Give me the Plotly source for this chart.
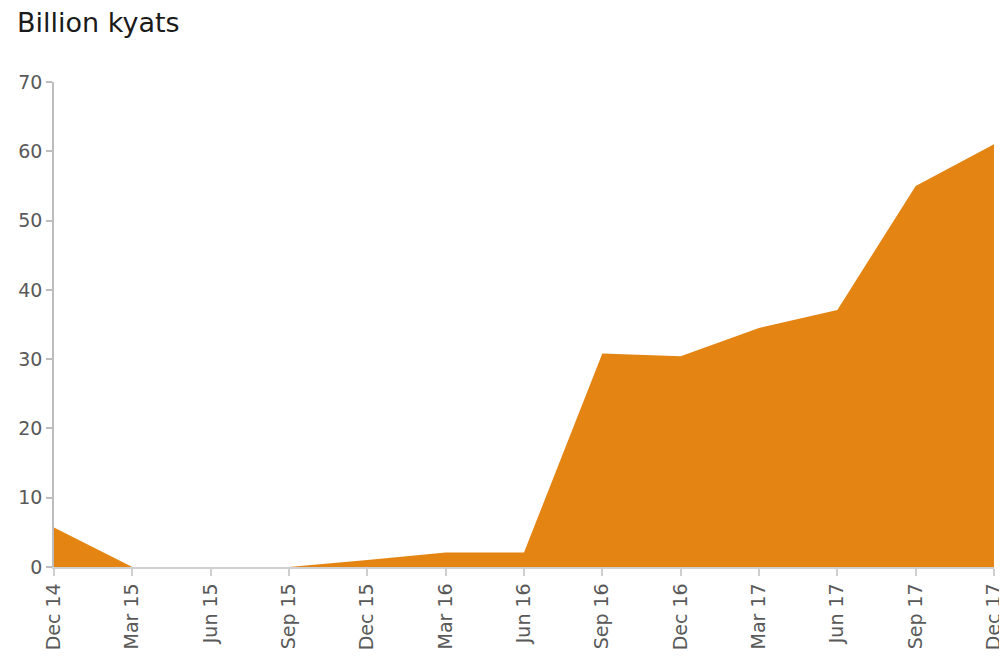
import plotly.graph_objects as go

quarters = ["Dec 14", "Mar 15", "Jun 15", "Sep 15", "Dec 15", "Mar 16", "Jun 16",
            "Sep 16", "Dec 16", "Mar 17", "Jun 17", "Sep 17", "Dec 17"]
values = [5.7, 0, 0, 0, 1.0, 2.1, 2.1, 30.8, 30.4, 34.5, 37.1, 55.0, 61.0]
y_ticks = [0, 10, 20, 30, 40, 50, 60, 70]

FONT = "DejaVu Sans"
fig = go.Figure()
fig.add_trace(go.Scatter(
    x=quarters, y=values, mode="lines", fill="tozeroy",
    fillcolor="#E48413", line=dict(width=0, color="#E48413"),
    hoverinfo="x+y", showlegend=False,
))

# page body has an 8px margin, so the figure is 8px smaller than the window
fig.update_layout(
    width=999, height=657,
    margin=dict(l=46, r=13, t=74, b=98),
    paper_bgcolor="white", plot_bgcolor="white",
    font=dict(family=FONT, color="#595959", size=19),
    annotations=[dict(text="Billion kyats", xref="paper", yref="paper",
                      x=-39/940, y=1 + 59/485, xanchor="left", yanchor="middle",
                      showarrow=False, font=dict(size=27, color="#1a1a1a", family=FONT))],
    xaxis=dict(type="category", range=[0, 12], showgrid=False, zeroline=False,
               automargin=False,
               showline=True, linecolor="#cfcfcf", linewidth=1.5,
               ticks="outside", ticklen=7, tickcolor="#cfcfcf", tickwidth=1.5,
               tickangle=-90, tickfont=dict(size=19, color="#595959")),
    yaxis=dict(range=[0, 70], tickvals=y_ticks, showgrid=False, zeroline=False,
               automargin=False,
               showline=True, linecolor="#bdbdbd", linewidth=1.5,
               ticks="outside", ticklen=6, tickcolor="#bdbdbd", tickwidth=1.5,
               tickfont=dict(size=19, color="#595959")),
)

fig.write_html("out.html")
